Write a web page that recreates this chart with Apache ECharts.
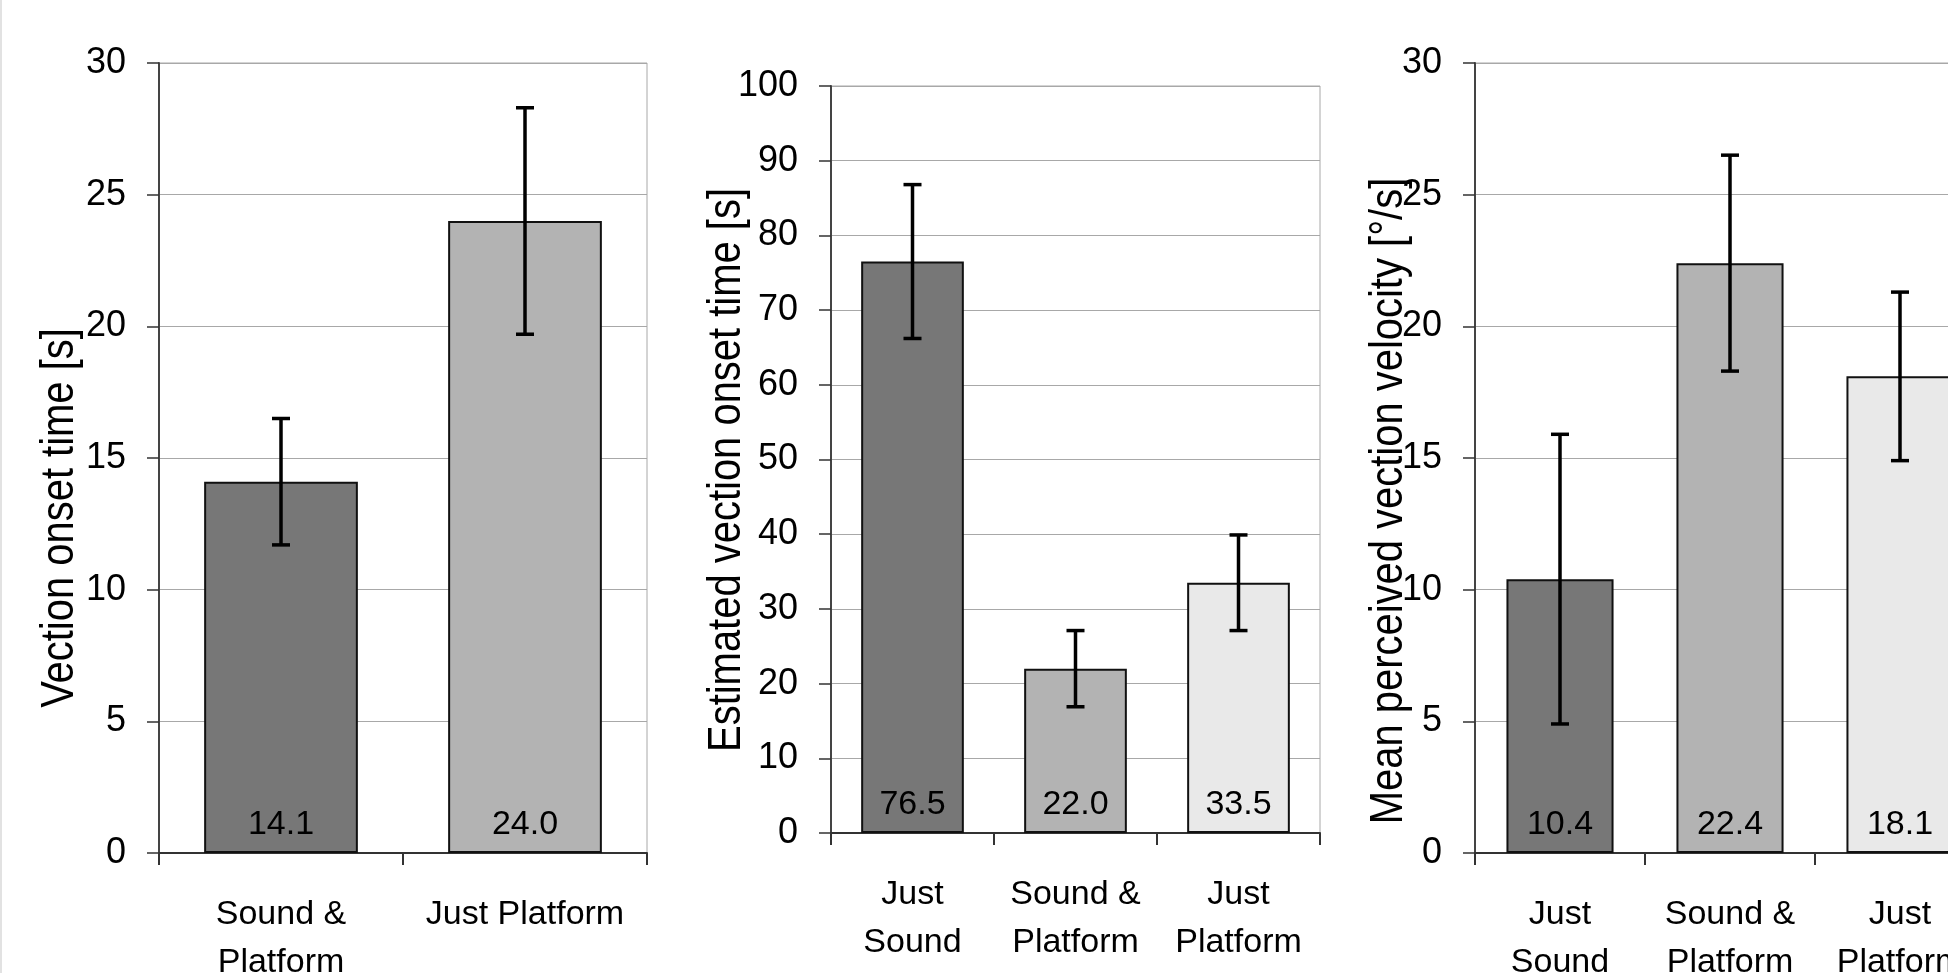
<!DOCTYPE html>
<html>
<head>
<meta charset="utf-8">
<script src="https://cdn.jsdelivr.net/npm/echarts@6/dist/echarts.min.js"></script>
<style>
  html, body { margin: 0; padding: 0; background: #fff; }
  #myChart { width: 1948px; height: 973px; }
</style>
</head>
<body>
<div id="myChart"></div>
<script>
  // panel 1: vection onset time
  const cats1 = ['Sound &\nPlatform', 'Just Platform']
  const onset1 = [14.1, 24.0]
  const onset1Hi = [16.5, 28.3]
  const onset1Lo = [11.7, 19.7]

  // panel 2: estimated vection onset time
  const cats2 = ['Just\nSound', 'Sound &\nPlatform', 'Just\nPlatform']
  const est2 = [76.5, 22.0, 33.5]
  const est2Hi = [86.8, 27.1, 39.9]
  const est2Lo = [66.2, 16.9, 27.1]

  // panel 3: mean perceived vection velocity
  const cats3 = ['Just\nSound', 'Sound &\nPlatform', 'Just\nPlatform']
  const vel3 = [10.4, 22.4, 18.1]
  const vel3Hi = [15.9, 26.5, 21.3]
  const vel3Lo = [4.9, 18.3, 14.9]

  const FONT = "'Liberation Sans', Arial, sans-serif"
  const fills = ['#777777', '#b3b3b3', '#e9e9e9']

  function xAxisOf(idx, cats) {
    return {
      type: 'category', gridIndex: idx, data: cats,
      axisLine: {lineStyle: {color: '#333', width: 2}},
      axisTick: {show: true, length: 12, lineStyle: {color: '#333', width: 2}},
      axisLabel: {color: '#000', fontFamily: FONT, fontSize: 34, lineHeight: 48, margin: 38, interval: 0}
    }
  }

  function yAxisOf(idx, max, step) {
    return {
      type: 'value', gridIndex: idx, min: 0, max: max, interval: step,
      axisLine: {show: true, lineStyle: {color: '#444', width: 2}},
      axisTick: {show: true, length: 12, lineStyle: {color: '#333', width: 1.5}},
      axisLabel: {color: '#000', fontFamily: FONT, fontSize: 36, margin: 33},
      splitLine: {lineStyle: {color: '#a8a8a8', width: 1}}
    }
  }

  function barSeries(idx, vals) {
    return {
      type: 'bar', xAxisIndex: idx, yAxisIndex: idx, barWidth: '63%',
      data: vals.map((v, i) => ({value: v, itemStyle: {color: fills[i]}})),
      itemStyle: {borderColor: '#111', borderWidth: 2},
      label: {
        show: true, position: 'insideBottom', distance: 11,
        color: '#000', fontFamily: FONT, fontSize: 34,
        formatter: p => p.value.toFixed(1)
      },
      silent: true
    }
  }

  function errRender(params, api) {
    let x = api.value(0)
    let top = api.coord([x, api.value(1)])
    let bot = api.coord([x, api.value(2)])
    let w = 9
    let st = {stroke: '#000', lineWidth: 3.5}
    return {
      type: 'group', children: [
        {type: 'line', shape: {x1: top[0], y1: top[1], x2: bot[0], y2: bot[1]}, style: st},
        {type: 'line', shape: {x1: top[0] - w, y1: top[1], x2: top[0] + w, y2: top[1]}, style: st},
        {type: 'line', shape: {x1: bot[0] - w, y1: bot[1], x2: bot[0] + w, y2: bot[1]}, style: st}
      ]
    }
  }

  function errSeries(idx, hi, lo) {
    return {
      type: 'custom', xAxisIndex: idx, yAxisIndex: idx, z: 5,
      renderItem: errRender,
      encode: {x: 0, y: [1, 2]},
      data: hi.map((h, i) => [i, h, lo[i]]),
      silent: true
    }
  }

  // rotated axis titles, squeezed along the text to look like a narrow face
  function yTitle(x, y, text) {
    return {
      type: 'text', x: x, y: y, rotation: Math.PI / 2, scaleX: 0.85,
      style: {text: text, fill: '#000', font: '47px ' + FONT, align: 'center', verticalAlign: 'middle'}
    }
  }

  let myCharts = echarts.init(document.getElementById('myChart'))
  myCharts.setOption({
    backgroundColor: '#fff',
    animation: false,
    grid: [
      {left: 159, top: 63, width: 488, height: 790, outerBoundsMode: 'none', show: true, borderColor: '#a8a8a8', borderWidth: 1},
      {left: 831, top: 86, width: 489, height: 747, outerBoundsMode: 'none', show: true, borderColor: '#a8a8a8', borderWidth: 1},
      {left: 1475, top: 63, width: 510, height: 790, outerBoundsMode: 'none', show: true, borderColor: '#a8a8a8', borderWidth: 1}
    ],
    xAxis: [xAxisOf(0, cats1), xAxisOf(1, cats2), xAxisOf(2, cats3)],
    yAxis: [yAxisOf(0, 30, 5), yAxisOf(1, 100, 10), yAxisOf(2, 30, 5)],
    series: [
      barSeries(0, onset1), errSeries(0, onset1Hi, onset1Lo),
      barSeries(1, est2), errSeries(1, est2Hi, est2Lo),
      barSeries(2, vel3), errSeries(2, vel3Hi, vel3Lo)
    ],
    graphic: [
      {type: 'rect', shape: {x: 0, y: 0, width: 2, height: 973}, style: {fill: '#e2e2e2'}},
      yTitle(60, 518, 'Vection onset time [s]'),
      yTitle(727, 470, 'Estimated vection onset time [s]'),
      yTitle(1389, 501, 'Mean perceived vection velocity [°/s]')
    ]
  })
</script>
</body>
</html>
